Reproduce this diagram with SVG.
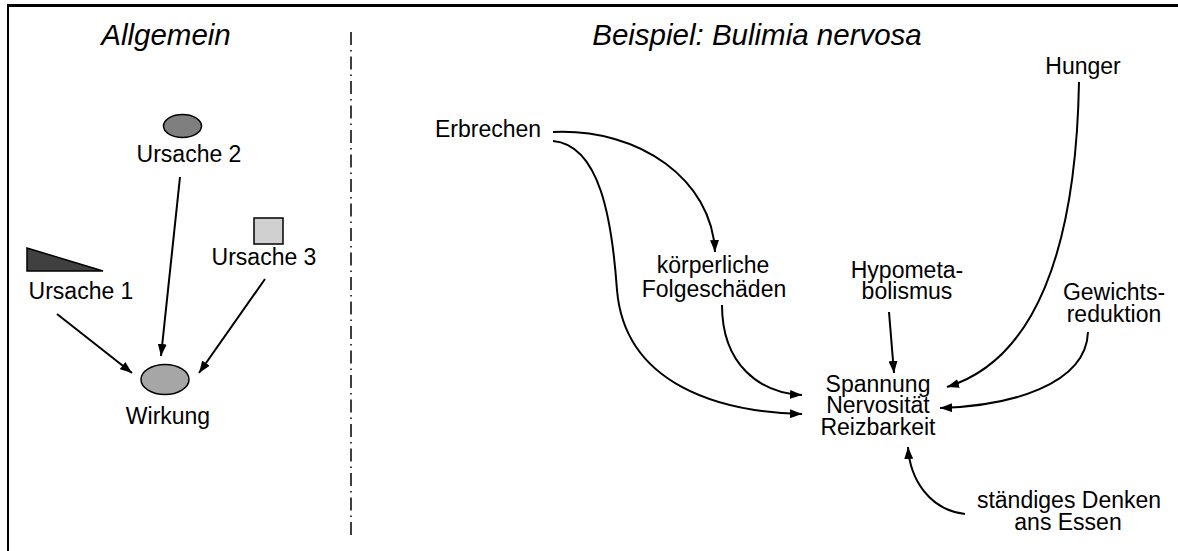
<svg xmlns="http://www.w3.org/2000/svg" width="1178" height="551" viewBox="0 0 1178 551">
<style>
text{font-family:"Liberation Sans",Arial,sans-serif;font-size:23px;fill:#000;text-anchor:middle}
.h{font-style:italic;font-size:29.5px}
.c{fill:none;stroke:#000;stroke-width:2}
.s{stroke:#000;stroke-width:1.5}
</style>
<defs>
<marker id="ah" viewBox="0 0 12 9" refX="12" refY="4.5" markerWidth="12" markerHeight="9" markerUnits="userSpaceOnUse" orient="auto">
<path d="M0,0 L12,4.5 L0,9 z" fill="#000"/>
</marker>
</defs>
<rect width="1178" height="551" fill="#fff"/>
<g id="frame">
<line x1="8" y1="5.5" x2="1178" y2="5.5" stroke="#000" stroke-width="3"/>
<line x1="8" y1="4" x2="8" y2="551" stroke="#000" stroke-width="2"/>
<line x1="351" y1="32" x2="351" y2="535" stroke="#000" stroke-width="1.5" stroke-dasharray="13 5 1.5 5"/>
</g>
<g id="headings">
<text class="h" x="166" y="45">Allgemein</text>
<text class="h" x="757" y="45">Beispiel: Bulimia nervosa</text>
</g>
<g id="ursache2">
<ellipse class="s" cx="182.5" cy="126" rx="19" ry="11.5" fill="#7f7f7f"/>
<text x="189" y="162">Ursache 2</text>
</g>
<g id="ursache1">
<polygon class="s" points="27,248 27,271 103,271" fill="#404040"/>
<text x="81" y="299">Ursache 1</text>
</g>
<g id="ursache3">
<rect class="s" x="254" y="218" width="29" height="26" fill="#d0d0d0"/>
<text x="264" y="265">Ursache 3</text>
</g>
<g id="wirkung">
<ellipse class="s" cx="165" cy="379.5" rx="24" ry="15" fill="#a6a6a6"/>
<text x="168" y="424">Wirkung</text>
</g>
<g id="erbrechen"><text x="488" y="137">Erbrechen</text></g>
<g id="folgeschaeden"><text x="713" y="273">körperliche</text><text x="714" y="297">Folgeschäden</text></g>
<g id="hypometabolismus"><text x="907" y="278">Hypometa-</text><text x="907" y="299">bolismus</text></g>
<g id="hunger"><text x="1083" y="74">Hunger</text></g>
<g id="gewichtsreduktion"><text x="1114" y="300">Gewichts-</text><text x="1114" y="322">reduktion</text></g>
<g id="spannung"><text x="878" y="392">Spannung</text><text x="878" y="413">Nervosität</text><text x="878" y="435">Reizbarkeit</text></g>
<g id="denken"><text x="1069" y="508">ständiges Denken</text><text x="1068" y="530">ans Essen</text></g>
<g id="connectors">
<path class="c" d="M180,177 L161,356" marker-end="url(#ah)"/>
<path class="c" d="M57,314 L132,373" marker-end="url(#ah)"/>
<path class="c" d="M265,279 L199,373" marker-end="url(#ah)"/>
<path class="c" d="M553,132 C640,128 712,180 715,252" marker-end="url(#ah)"/>
<path class="c" d="M553,141 C600,145 612,220 617,290 C625,385 720,412 802,414" marker-end="url(#ah)"/>
<path class="c" d="M722,305 C722,365 760,393 802,395" marker-end="url(#ah)"/>
<path class="c" d="M889,312 L894,373" marker-end="url(#ah)"/>
<path class="c" d="M1079,82 C1076,250 1035,360 947,387" marker-end="url(#ah)"/>
<path class="c" d="M1088,332 C1086,385 1010,406 940,408" marker-end="url(#ah)"/>
<path class="c" d="M965,514 C930,510 910,480 908,447" marker-end="url(#ah)"/>
</g>
</svg>
